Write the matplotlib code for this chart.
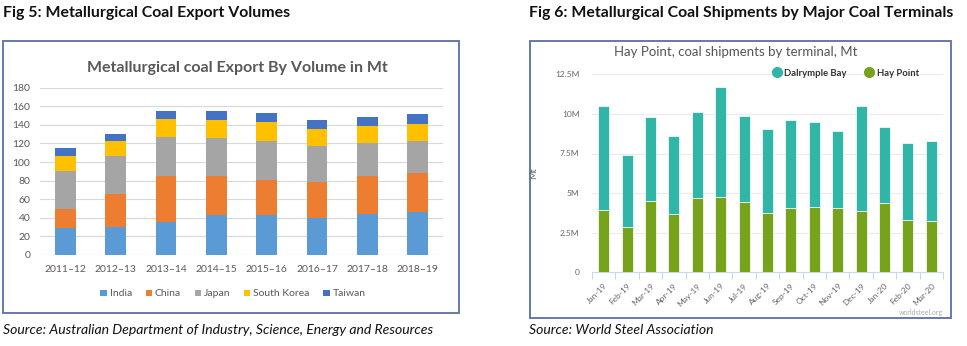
import numpy as np
import matplotlib
matplotlib.use("Agg")
import matplotlib.pyplot as plt
from matplotlib.patches import Rectangle
from matplotlib.lines import Line2D

plt.rcParams["font.family"] = ["Lato", "DejaVu Sans"]

# ── Data: Fig 5 (Mt) ─────────────────────────────────────────
years = ["2011–12", "2012–13", "2013–14", "2014–15", "2015–16", "2016–17", "2017–18", "2018–19"]
india = [29, 30, 36, 42.5, 43.5, 40, 44.5, 46.5]
china = [21, 36, 48.5, 43, 37.5, 38.5, 40, 42]
japan = [40, 40, 42.5, 40, 42, 39, 36.5, 34]
south_korea = [16.5, 17, 19, 20, 20.5, 18.5, 18, 18]
taiwan = [8.5, 7.5, 9, 9.5, 9.3, 9, 9.4, 10.8]

# ── Data: Fig 6 (M tonnes) ───────────────────────────────────
months = ["Jan-19", "Feb-19", "Mar-19", "Apr-19", "May-19", "Jun-19", "Jul-19", "Aug-19",
          "Sep-19", "Oct-19", "Nov-19", "Dec-19", "Jan-20", "Feb-20", "Mar-20"]
hay_point = [3.94, 2.88, 4.52, 3.68, 4.69, 4.73, 4.42, 3.77, 4.08, 4.12, 4.04, 3.89, 4.36, 3.30, 3.24]
dalrymple_bay = [6.58, 4.53, 5.31, 4.91, 5.45, 6.95, 5.47, 5.30, 5.56, 5.35, 4.86, 6.59, 4.82, 4.86, 5.05]

W, H = 967, 346
fig = plt.figure(figsize=(W / 100, H / 100), dpi=100)


def fx(px):
    return px / W


def fy(py):
    return 1 - py / H


def box(x0, y0, x1, y1):
    fig.patches.append(Rectangle((fx(x0), fy(y1)), fx(x1) - fx(x0), fy(y0) - fy(y1),
                                 transform=fig.transFigure, fill=False,
                                 edgecolor="#5b6ea6", lw=1.3))


# ── Headings / boxes / sources ───────────────────────────────
fig.text(fx(3), fy(13), "Fig 5: Metallurgical Coal Export Volumes",
         fontsize=11.4, fontweight="bold", va="center", color="#111111")
fig.text(fx(529), fy(13), "Fig 6: Metallurgical Coal Shipments by Major Coal Terminals",
         fontsize=11.4, fontweight="bold", va="center", color="#111111")
box(3, 41, 459, 313)
box(530, 41, 951, 318)
fig.text(fx(3), fy(330), "Source: Australian Department of Industry, Science, Energy and Resources",
         fontsize=10.1, style="italic", va="center", color="#111111")
fig.text(fx(529), fy(330), "Source: World Steel Association",
         fontsize=10.1, style="italic", va="center", color="#111111")

# ── Fig 5: stacked bars ──────────────────────────────────────
ax1 = fig.add_axes([fx(40), fy(255), fx(443) - fx(40), fy(87.7) - fy(255)])
x = np.arange(len(years))
series = [("India", india, "#5b9bd5"), ("China", china, "#ed7d31"),
          ("Japan", japan, "#a5a5a5"), ("South Korea", south_korea, "#ffc000"),
          ("Taiwan", taiwan, "#4472c4")]
bottom = np.zeros(len(years))
for name, vals, col in series:
    ax1.bar(x, vals, 0.41, bottom=bottom, color=col, label=name, zorder=3)
    bottom += np.array(vals)

ax1.set_xlim(-0.5, len(years) - 0.5)
ax1.set_ylim(0, 180)
ax1.set_yticks(range(0, 181, 20))
ax1.set_xticks(x)
ax1.set_xticklabels(years)
ax1.grid(axis="y", color="#d9d9d9", lw=0.8, zorder=0)
for s in ax1.spines.values():
    s.set_visible(False)
ax1.tick_params(length=0, labelsize=7.5, colors="#595959")
ax1.tick_params(axis="x", pad=7)
ax1.tick_params(axis="y", pad=7)
ax1.text(0.49, 1.12, "Metallurgical coal Export By Volume in Mt", transform=ax1.transAxes,
         ha="center", va="center", fontsize=11.5, fontweight="bold", color="#595959")
fig.legend(*ax1.get_legend_handles_labels(), loc="center", bbox_to_anchor=(fx(233), fy(294)),
           ncol=5, frameon=False, fontsize=7.5, labelcolor="#595959",
           handlelength=0.6, handleheight=0.6, handletextpad=0.3, columnspacing=1.3)

# ── Fig 6: stacked bars ──────────────────────────────────────
teal = "#30b5a7"
green = "#76a21c"
ax2 = fig.add_axes([fx(592), fy(272.3), fx(943) - fx(592), fy(74.3) - fy(272.3)])
m = np.arange(len(months))
ax2.bar(m, hay_point, 0.47, color=green, edgecolor="white", lw=0.5, zorder=3)
ax2.bar(m, dalrymple_bay, 0.47, bottom=hay_point, color=teal, edgecolor="white", lw=0.5, zorder=3)
ax2.set_xlim(-0.5, len(months) - 0.5)
ax2.set_ylim(0, 12.5)
ax2.set_yticks([0, 2.5, 5, 7.5, 10, 12.5])
ax2.set_yticklabels(["0", "2.5M", "5M", "7.5M", "10M", "12.5M"])
ax2.set_xticks(m)
ax2.set_xticklabels(months, rotation=45, ha="right", rotation_mode="anchor")
ax2.set_xticks(np.arange(-0.5, len(months)), minor=True)
ax2.grid(axis="y", color="#ebebeb", lw=0.8, zorder=0)
for s in ["top", "right", "left"]:
    ax2.spines[s].set_visible(False)
ax2.spines["bottom"].set_color("#ccd6eb")
ax2.tick_params(axis="x", which="major", length=0, labelsize=6, colors="#666666", pad=7)
ax2.tick_params(axis="x", which="minor", length=5, color="#ccd6eb", width=0.8)
ax2.tick_params(axis="y", length=0, labelsize=6, colors="#666666", pad=9)
ax2.set_ylabel("Mt", fontsize=6.5, color="#666666", labelpad=12)
ax2.text(0.41, 1.115, "Hay Point, coal shipments by terminal, Mt", transform=ax2.transAxes,
         ha="center", va="center", fontsize=9.5, color="#555555")
handles = [Line2D([], [], marker="o", ls="none", color=teal, markersize=7),
           Line2D([], [], marker="o", ls="none", color=green, markersize=7)]
fig.legend(handles, ["Dalrymple Bay", "Hay Point"], loc="center", bbox_to_anchor=(fx(846), fy(73)),
           ncol=2, frameon=False, labelcolor="#333333",
           prop={"weight": "bold", "size": 6.8},
           handlelength=0.8, handletextpad=0.4, columnspacing=2.0)
fig.text(fx(943), fy(312), "worldsteel.org", fontsize=5, color="#aaaaaa", ha="right", va="center")

fig.savefig("out.png", dpi=100)
